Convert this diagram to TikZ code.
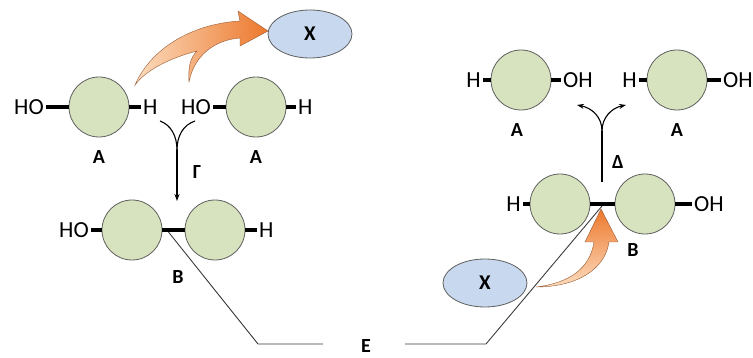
\documentclass[tikz,border=0pt]{standalone}
\usepackage{fontspec}
\setmainfont{Carlito}
\usepackage{tikz}
\usetikzlibrary{shapes.geometric}
\usetikzlibrary{arrows.meta}
\usetikzlibrary{calc}
\definecolor{unitgreen}{RGB}{215,227,190}
\definecolor{unitline}{RGB}{95,95,95}
\definecolor{xblue}{RGB}{200,216,238}
\definecolor{ordark}{RGB}{236,120,45}
\definecolor{orlight}{RGB}{252,220,190}
\definecolor{oredge}{RGB}{150,90,50}
\definecolor{eline}{RGB}{60,60,60}
\begin{document}
\begin{tikzpicture}[x=1pt,y=-1pt,
  unit/.style={circle,draw=unitline,line width=0.8pt,fill=unitgreen,minimum size=60pt,inner sep=0pt},
  xmol/.style={ellipse,draw=unitline,line width=0.8pt,fill=xblue,minimum width=84pt,minimum height=48pt,inner sep=0pt,font=\bfseries\fontsize{21}{21}\selectfont},
  grp/.style={font=\fontsize{23}{23}\selectfont,inner sep=2pt},
  lbl/.style={font=\bfseries\fontsize{20}{20}\selectfont,inner sep=0pt},
  bond/.style={line width=4.5pt},
  react/.style={line width=1.1pt},
  link/.style={draw=eline,line width=0.9pt},
  turn/.style={draw=oredge,line width=0.4pt}]
  \useasboundingbox (0,0) rectangle (753,358);
  \clip (0,0) rectangle (753,358);

  % condensation: A + A -> B + X
  \node[unit] (a1) at (99,107) {};
  \node[grp,anchor=east] (ho1) at (46,107) {HO};
  \node[grp,anchor=west] (h1) at (141,107) {H};
  \node[unit] (a2) at (256,107) {};
  \node[grp,anchor=east] (ho2) at (213,107) {HO};
  \node[grp,anchor=west] (h2) at (296,107) {H};
  \node[lbl] (la1) at (99,157) {A};
  \node[lbl] (la2) at (256,157) {A};
  \draw[bond] (ho1.east) -- (a1.west);
  \draw[bond] (a1.east) -- (h1.west);
  \draw[bond] (ho2.east) -- (a2.west);
  \draw[bond] (a2.east) -- (h2.west);

  \coordinate (gl) at (160,121);
  \coordinate (gr) at (195,121);
  \coordinate (gm) at (177,150);
  \coordinate (gt) at (177,201);
  \draw[react] (gl) .. controls (171,125) and (177,136) .. (gm);
  \draw[react] (gr) .. controls (183,125) and (177,136) .. (gm);
  \draw[react,-{Stealth[length=7pt,width=5pt]}] (gm) -- (gt);
  \node[lbl] (gam) at (197,172) {Γ};

  \node[unit] (b1) at (132,230) {};
  \node[unit] (b2) at (215,230) {};
  \node[grp,anchor=east] (ho3) at (91,230) {HO};
  \node[grp,anchor=west] (h3) at (257,230) {H};
  \node[lbl] (lb1) at (178,277) {B};

  \node[xmol] (x1) at (310,34) {X};
  \shadedraw[turn,left color=orlight,right color=ordark]
    (135,85) .. controls (150,50) and (190,24) .. (240,21)
    -- (238,11) -- (268,31) -- (240,46) -- (240,38)
    .. controls (214,40) and (194,56) .. (189,82)
    .. controls (188,68) and (190,58) .. (197,51)
    .. controls (170,58) and (146,70) .. (135,85) -- cycle;

  % hydrolysis: B + X -> A + A
  \node[unit] (a3) at (521,80) {};
  \node[grp,anchor=east] (h4) at (483,80) {H};
  \node[grp,anchor=west] (oh1) at (561,80) {OH};
  \node[unit] (a4) at (677,80) {};
  \node[grp,anchor=east] (h5) at (639,80) {H};
  \node[grp,anchor=west] (oh2) at (721,80) {OH};
  \node[lbl] (la3) at (517,130) {A};
  \node[lbl] (la4) at (677,130) {A};
  \draw[bond] (h4.east) -- (a3.west);
  \draw[bond] (a3.east) -- (oh1.west);
  \draw[bond] (h5.east) -- (a4.west);
  \draw[bond] (a4.east) -- (oh2.west);

  \coordinate (db) at (602,182);
  \coordinate (dm) at (602,131);
  \coordinate (dl) at (577,105);
  \coordinate (dr) at (626,105);
  \draw[react] (db) -- (dm);
  \draw[react,-{Stealth[length=7pt,width=5pt]}] (dm) .. controls (602,117) and (592,108) .. (dl);
  \draw[react,-{Stealth[length=7pt,width=5pt]}] (dm) .. controls (602,117) and (612,108) .. (dr);
  \node[lbl] (del) at (618,162) {Δ};

  \node[unit] (b3) at (560,204) {};
  \node[unit] (b4) at (645,204) {};
  \node[grp,anchor=east] (h6) at (523,204) {H};
  \node[grp,anchor=west] (oh3) at (692,204) {OH};
  \node[lbl] (lb2) at (633,250) {B};

  % energy line E
  \coordinate (eL) at ($(b1.east)!0.2!(b2.west)$);
  \coordinate (eR) at ($(b3.east)!0.55!(b4.west)$);
  \draw[link] (eL) -- (258,344) -- (323,344);
  \node[lbl] (en) at (366,346) {E};
  \draw[link] (405,344) -- (486,344) -- (eR);

  \draw[bond] (ho3.east) -- (b1.west);
  \draw[bond] (b1.east) -- (b2.west);
  \draw[bond] (b2.east) -- (h3.west);
  \draw[bond] (h6.east) -- (b3.west);
  \draw[bond] (b3.east) -- (b4.west);
  \draw[bond] (b4.east) -- (oh3.west);

  \node[xmol] (x2) at (485,283) {X};
  \shadedraw[turn,bottom color=orlight,top color=ordark]
    (536,287) .. controls (576,287) and (605,270) .. (609,242)
    -- (618,242) -- (601,209) -- (585,242) -- (594,242)
    .. controls (590,268) and (570,283) .. (536,287) -- cycle;
\end{tikzpicture}
\end{document}
